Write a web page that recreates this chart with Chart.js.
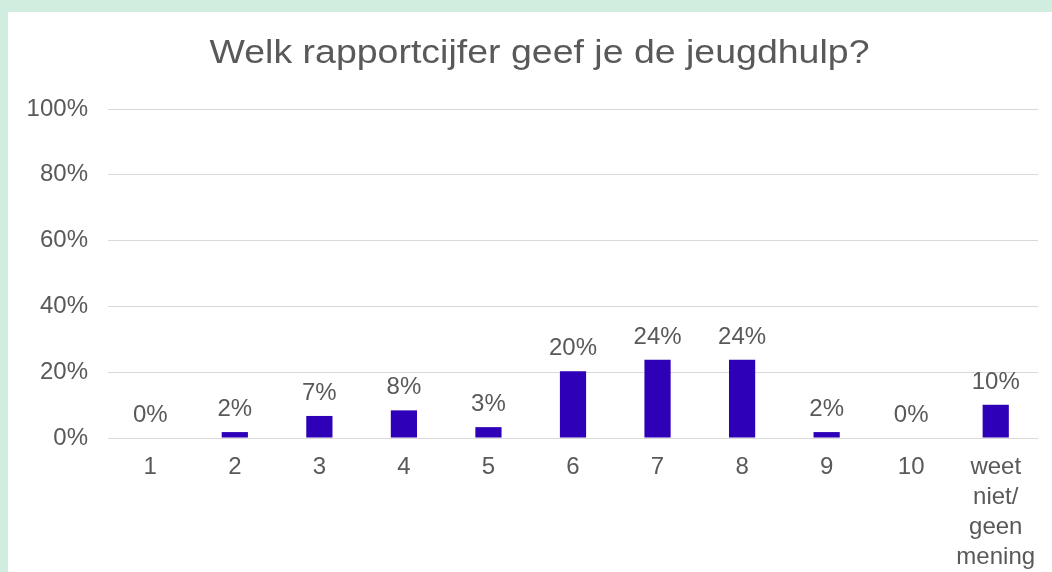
<!DOCTYPE html>
<html>
<head>
<meta charset="utf-8">
<script src="https://cdn.jsdelivr.net/npm/chart.js@4"></script>
<style>
  html, body { margin: 0; padding: 0; background: #d1eddf; }
  #wrap { position: absolute; left: 8px; top: 12px; width: 1044px; height: 560px; background: #fff; }
</style>
</head>
<body>
<div id="wrap"><canvas id="cijferChart"></canvas></div>
<script>
// values (percent)
const categories = ['1', '2', '3', '4', '5', '6', '7', '8', '9', '10', ['weet', 'niet/', 'geen', 'mening']];
const percentages = [0, 1.8, 6.7, 8.4, 3.3, 20.3, 23.8, 23.8, 1.8, 0, 10.1];
const yTicks = [0, 20, 40, 60, 80, 100];
const chartTitle = 'Welk rapportcijfer geef je de jeugdhulp?';

const textColor = '#595959';
const fontFamily = '"Liberation Sans", Arial, sans-serif';

// title drawn by hand: the original is a bit wider than a plain 33px font
const titleDraw = {
    id: 'titleDraw',
    afterDraw(chart) {
        const ctx = chart.ctx;
        ctx.save();
        ctx.font = '33px ' + fontFamily;
        ctx.fillStyle = textColor;
        ctx.textBaseline = 'alphabetic';
        ctx.textAlign = 'center';
        const sx = 660 / ctx.measureText(chartTitle).width;
        ctx.translate(531.5, 51);
        ctx.scale(sx, 1);
        ctx.fillText(chartTitle, 0, 0);
        ctx.restore();
    }
};

// value labels above the bars
const barLabels = {
    id: 'barLabels',
    afterDatasetsDraw(chart) {
        const ctx = chart.ctx;
        const meta = chart.getDatasetMeta(0);
        ctx.save();
        ctx.font = '24px ' + fontFamily;
        ctx.fillStyle = textColor;
        ctx.textAlign = 'center';
        ctx.textBaseline = 'alphabetic';
        meta.data.forEach((bar, i) => {
            ctx.fillText(Math.round(percentages[i]) + '%', bar.x, bar.y - 16);
        });
        ctx.restore();
    }
};

new Chart(document.getElementById('cijferChart').getContext('2d'), {
    type: 'bar',
    data: {
        labels: categories,
        datasets: [{
            data: percentages,
            backgroundColor: '#2e00b8',
            categoryPercentage: 1,
            barPercentage: 0.31
        }]
    },
    options: {
        responsive: true,
        maintainAspectRatio: false,
        animation: false,
        layout: { padding: { left: 0, right: 14, top: 97, bottom: 0 } },
        plugins: {
            legend: { display: false },
            tooltip: { enabled: false },
            title: { display: false }
        },
        scales: {
            x: {
                grid: { display: false, drawTicks: false },
                border: { display: false },
                ticks: {
                    color: textColor,
                    padding: 14,
                    maxRotation: 0,
                    autoSkip: false,
                    font: { family: fontFamily, size: 24, lineHeight: 1.25 }
                },
                afterFit(scale) { scale.height = 134; }
            },
            y: {
                min: 0,
                max: 100,
                afterBuildTicks(scale) { scale.ticks = yTicks.map(v => ({ value: v })); },
                grid: { color: '#d9d9d9', lineWidth: 1, drawTicks: false },
                border: { display: false },
                ticks: {
                    color: textColor,
                    padding: 20,
                    font: { family: fontFamily, size: 24 },
                    callback: v => v + '%'
                },
                afterFit(scale) { scale.width = 100; }
            }
        }
    },
    plugins: [barLabels, titleDraw]
});
</script>
</body>
</html>
